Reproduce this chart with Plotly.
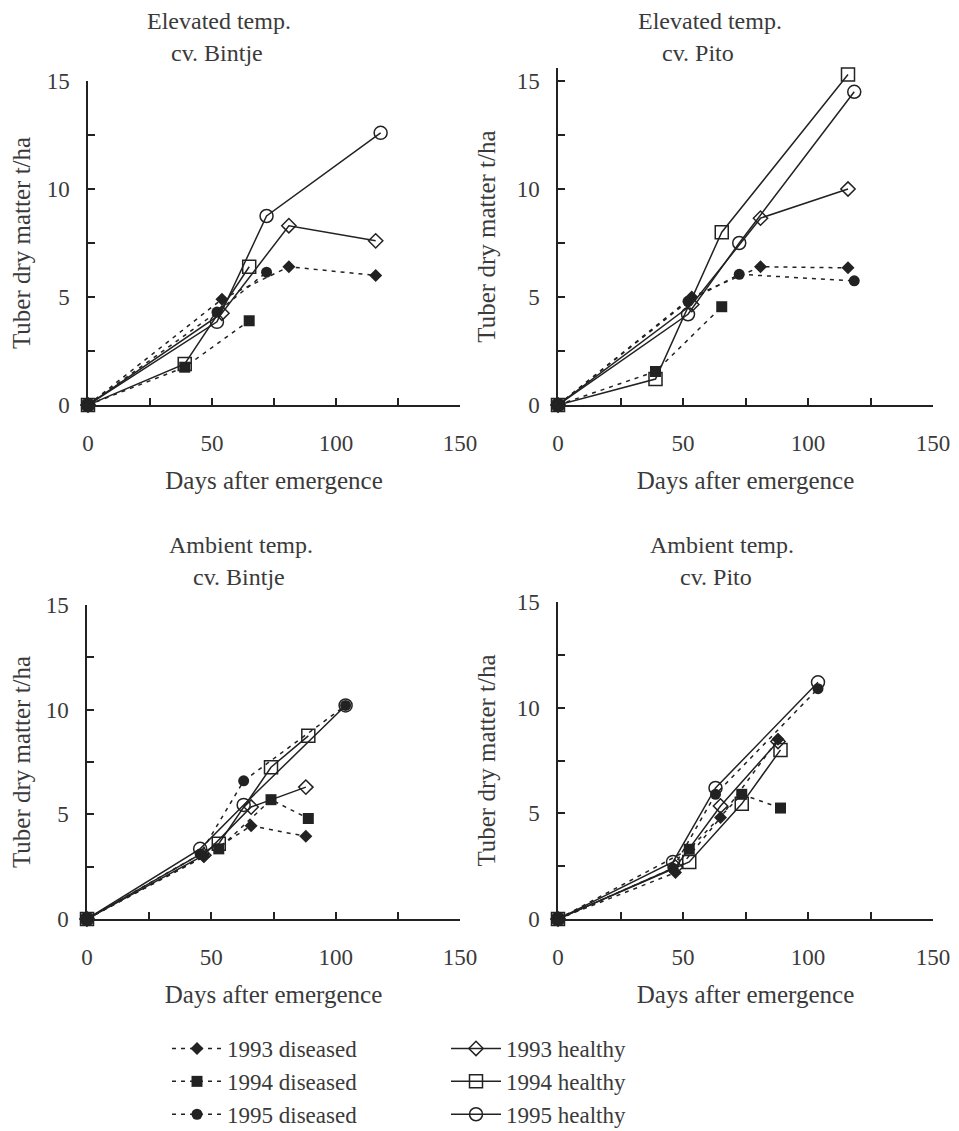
import plotly.graph_objects as go

# ---------------- data ----------------
# Elevated temp., cv. Bintje
EB_DAYS_1993 = [0, 54, 81, 116]
EB_DIS_1993 = [0, 4.9, 6.4, 6.0]
EB_HEA_1993 = [0, 4.25, 8.3, 7.6]
EB_DAYS_1994 = [0, 39, 65]
EB_DIS_1994 = [0, 1.75, 3.9]
EB_HEA_1994 = [0, 1.9, 6.4]
EB_DAYS_1995 = [0, 52, 72, 118]
EB_DIS_1995 = [0, 4.3, 6.15, None]
EB_HEA_1995 = [0, 3.85, 8.75, 12.6]

# Elevated temp., cv. Pito
EP_DAYS_1993 = [0, 53.5, 81, 116]
EP_DIS_1993 = [0, 5.0, 6.4, 6.35]
EP_HEA_1993 = [0, 4.65, 8.65, 10.0]
EP_DAYS_1994 = [0, 39, 65.5, 116]
EP_DIS_1994 = [0, 1.55, 4.55, None]
EP_HEA_1994 = [0, 1.2, 8.0, 15.3]
EP_DAYS_1995 = [0, 52, 72.5, 118.5]
EP_DIS_1995 = [0, 4.8, 6.05, 5.75]
EP_HEA_1995 = [0, 4.2, 7.5, 14.5]

# Ambient temp., cv. Bintje
AB_DAYS_1993 = [0, 47, 66, 88]
AB_DIS_1993 = [0, 3.0, 4.45, 3.95]
AB_HEA_1993 = [0, 3.05, 5.35, 6.3]
AB_DAYS_1994 = [0, 53, 74, 89]
AB_DIS_1994 = [0, 3.35, 5.7, 4.8]
AB_HEA_1994 = [0, 3.6, 7.25, 8.75]
AB_DAYS_1995 = [0, 45.5, 63, 104]
AB_DIS_1995 = [0, 3.1, 6.6, 10.2]
AB_HEA_1995 = [0, 3.35, 5.45, 10.2]

# Ambient temp., cv. Pito
AP_DAYS_1993 = [0, 47, 65, 88]
AP_DIS_1993 = [0, 2.2, 4.8, 8.5]
AP_HEA_1993 = [0, 2.45, 5.35, 8.4]
AP_DAYS_1994 = [0, 52.5, 73.5, 89]
AP_DIS_1994 = [0, 3.3, 5.9, 5.25]
AP_HEA_1994 = [0, 2.7, 5.45, 8.0]
AP_DAYS_1995 = [0, 46, 63, 104]
AP_DIS_1995 = [0, 2.4, 5.9, 10.9]
AP_HEA_1995 = [0, 2.7, 6.2, 11.2]

PANEL_TITLES = [("Elevated temp.", "cv. Bintje"), ("Elevated temp.", "cv. Pito"),
                ("Ambient temp.", "cv. Bintje"), ("Ambient temp.", "cv. Pito")]
X_TICKS = [0, 50, 100, 150]
Y_TICKS = [0, 5, 10, 15]
X_TITLE = "Days after emergence"
Y_TITLE = "Tuber dry matter t/ha"

PANELS = [
    [(EB_DAYS_1993, EB_DIS_1993, EB_HEA_1993), (EB_DAYS_1994, EB_DIS_1994, EB_HEA_1994), (EB_DAYS_1995, EB_DIS_1995, EB_HEA_1995)],
    [(EP_DAYS_1993, EP_DIS_1993, EP_HEA_1993), (EP_DAYS_1994, EP_DIS_1994, EP_HEA_1994), (EP_DAYS_1995, EP_DIS_1995, EP_HEA_1995)],
    [(AB_DAYS_1993, AB_DIS_1993, AB_HEA_1993), (AB_DAYS_1994, AB_DIS_1994, AB_HEA_1994), (AB_DAYS_1995, AB_DIS_1995, AB_HEA_1995)],
    [(AP_DAYS_1993, AP_DIS_1993, AP_HEA_1993), (AP_DAYS_1994, AP_DIS_1994, AP_HEA_1994), (AP_DAYS_1995, AP_DIS_1995, AP_HEA_1995)],
]
YEARS = ["1993", "1994", "1995"]

# ---------------- styling ----------------
OFF = 8                      # default page (body) margin of the html page
W, H = 959 - OFF, 1131 - OFF
INK = "#222222"
TXT = "#3a3a3a"
FONT = "Liberation Serif, Times New Roman, serif"

DIS_SYM = ["diamond", "square", "circle"]
DIS_SIZE = [10, 11, 11]
HEA_SYM = ["diamond-open", "square-open", "circle-open"]
HEA_SIZE = [11, 13, 13]


def px(x):
    return (x - OFF) / W


def py(y):
    return 1 - (y - OFF) / H


# panel boxes in reference pixels: (left, right, top, bottom, ymax)
BOXES = [(88, 460, 81, 405, 15), (558, 933, 81, 405, 15.6),
         (87, 460, 605, 919, 15), (558, 933, 602, 919, 15)]

fig = go.Figure()

for p, panel in enumerate(PANELS):
    xa = "x" if p == 0 else f"x{p+1}"
    ya = "y" if p == 0 else f"y{p+1}"
    for i, (days, dis, hea) in enumerate(panel):
        fig.add_trace(go.Scatter(
            x=days, y=dis, xaxis=xa, yaxis=ya, mode="lines+markers",
            name=f"{YEARS[i]} diseased", legendgroup=f"d{i}", legend="legend",
            showlegend=(p == 0), cliponaxis=False,
            line=dict(color=INK, width=1.5, dash="4px,5px"),
            marker=dict(symbol=DIS_SYM[i], size=DIS_SIZE[i], color=INK),
        ))
    for i, (days, dis, hea) in enumerate(panel):
        fig.add_trace(go.Scatter(
            x=days, y=hea, xaxis=xa, yaxis=ya, mode="lines+markers",
            name=f"{YEARS[i]} healthy", legendgroup=f"h{i}", legend="legend2",
            showlegend=(p == 0), cliponaxis=False,
            line=dict(color=INK, width=1.5),
            marker=dict(symbol=HEA_SYM[i], size=HEA_SIZE[i], color=INK,
                        line=dict(width=1.5, color=INK)),
        ))

axis_common = dict(showgrid=False, zeroline=False, showline=True, linecolor=INK, linewidth=1.5,
                   ticks="inside", ticklen=7, tickwidth=1.5, tickcolor=INK,
                   tickfont=dict(family=FONT, size=23, color=TXT), automargin=False)

layout = dict(width=W, height=H, paper_bgcolor="white", plot_bgcolor="white",
              margin=dict(l=0, r=0, t=0, b=0, autoexpand=False),
              font=dict(family=FONT, color=TXT, size=24))

for p, (l, r, t, b, ymax) in enumerate(BOXES):
    sx = "" if p == 0 else str(p + 1)
    top = b - (b - t) * ymax / 15.0
    layout[f"xaxis{sx}"] = dict(
        axis_common, domain=[px(l), px(r)], anchor=f"y{sx}", range=[0, 150],
        tickvals=X_TICKS, ticklabelstandoff=17,
        minor=dict(dtick=25, tick0=0, ticks="inside", ticklen=7, tickwidth=1.5, tickcolor=INK),
        title=dict(text=X_TITLE, standoff=16, font=dict(family=FONT, size=25, color=TXT)),
    )
    layout[f"yaxis{sx}"] = dict(
        axis_common, domain=[py(b), py(top)], anchor=f"x{sx}", range=[0, ymax],
        tickvals=Y_TICKS, ticklabelstandoff=12,
        minor=dict(dtick=2.5, tick0=0, ticks="inside", ticklen=7, tickwidth=1.5, tickcolor=INK),
        title=dict(text=Y_TITLE, standoff=14, font=dict(family=FONT, size=25, color=TXT)),
    )

TITLE_POS = [((219, 21), (217, 53)), ((710, 21), (698, 53)),
             ((241, 545), (239, 577)), ((722, 545), (716, 577))]
annotations = []
for (t1, t2), ((x1, y1), (x2, y2)) in zip(PANEL_TITLES, TITLE_POS):
    for txt, xx, yy in ((t1, x1, y1), (t2, x2, y2)):
        annotations.append(dict(text=txt, xref="paper", yref="paper", x=px(xx), y=py(yy),
                                xanchor="center", yanchor="middle", showarrow=False,
                                font=dict(family=FONT, size=24, color=TXT)))
layout["annotations"] = annotations

leg_common = dict(font=dict(family=FONT, size=23, color=TXT), bgcolor="rgba(0,0,0,0)",
                  borderwidth=0, xanchor="left", yanchor="bottom", traceorder="normal",
                  itemwidth=50, tracegroupgap=0)
layout["legend"] = dict(leg_common, x=px(167), y=-5 / H)
layout["legend2"] = dict(leg_common, x=px(446), y=-5 / H)
layout["showlegend"] = True

fig.update_layout(layout)
fig.write_html("out.html")
